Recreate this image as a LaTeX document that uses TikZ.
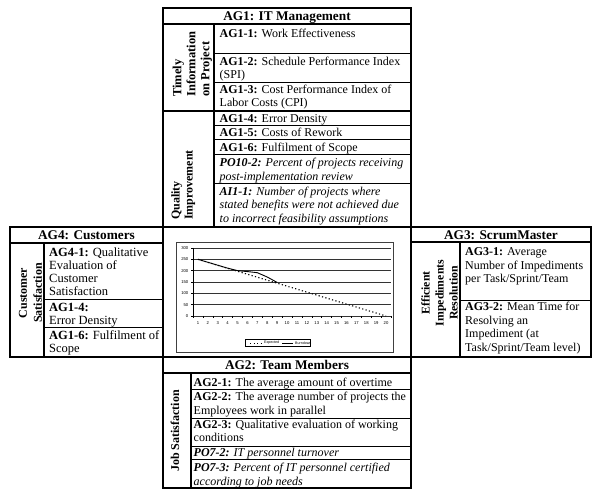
\documentclass[tikz,border=0pt]{standalone}
\usepackage{fontspec}
\setmainfont{Liberation Serif}
\newfontfamily\chartfont{Liberation Sans}
\tikzset{
  thickln/.style={line width=1.5pt, line join=miter},
  thinln/.style={line width=0.8pt},
  cell/.style={anchor=north west, inner sep=0pt, align=left, font=\fontsize{12}{13.5}\selectfont},
  celli/.style={cell, font=\fontsize{12}{13.5}\selectfont\itshape},
  cellL/.style={cell, font=\fontsize{12.5}{13}\selectfont},
  ttl/.style={anchor=base, inner sep=0pt, font=\fontsize{13.3}{15}\selectfont\bfseries},
  vlab/.style={rotate=90, inner sep=0pt, font=\bfseries},
  gridln/.style={line width=0.7pt, black!80},
  ticklab/.style={inner sep=0pt, font=\chartfont\fontsize{4.2}{5}\selectfont},
  expline/.style={line width=1.1pt, dash pattern=on 1.2pt off 2.3pt},
  burnline/.style={line width=0.9pt},
}
\begin{document}
\begin{tikzpicture}[x=1pt,y=-1pt]
\fill[white] (0,0) rectangle (600,502);
\useasboundingbox (0,0) rectangle (600,502);

% ---------- top block: AG1 ----------
\draw[thickln] (163,8) rectangle (411,227);
\draw[thickln] (163,24) -- (411,24);
\draw[thickln] (214,24) -- (214,227);
\draw[thickln] (163,111) -- (411,111);
\foreach \yy in {53,82,125,139,154,183} \draw[thinln] (214,\yy) -- (411,\yy);
\node[ttl] (ag1) at (287,20.5) {AG1: IT Management};
\node[vlab, anchor=north west, align=left, font=\fontsize{12.5}{14}\selectfont\bfseries] (timely) at (172.5,97) {Timely\\Information\\on Project};
\node[vlab, anchor=north west, align=left, font=\fontsize{12}{13}\selectfont\bfseries] (quality) at (171,220) {Quality\\Improvement};
\node[cell] (t1) at (219.5,27.5) {\strut\textbf{AG1-1:} Work Effectiveness};
\node[cell] (t2) at (219.5,55.5) {\strut\textbf{AG1-2:} Schedule Performance Index\\(SPI)};
\node[cell] (t3) at (219.5,83.5) {\strut\textbf{AG1-3:} Cost Performance Index of\\Labor Costs (CPI)};
\node[cell] (t4) at (219.5,112.5) {\strut\textbf{AG1-4:} Error Density};
\node[cell] (t5) at (219.5,127) {\strut\textbf{AG1-5:} Costs of Rework};
\node[cell] (t6) at (219.5,141.5) {\strut\textbf{AG1-6:} Fulfilment of Scope};
\node[celli] (t7) at (219.5,157.2) {\strut\textbf{PO10-2:} Percent of projects receiving\\post-implementation review};
\node[celli] (t8) at (219.5,185.5) {\strut\textbf{AI1-1:} Number of projects where\\stated benefits were not achieved due\\to incorrect feasibility assumptions};

% ---------- left block: AG4 ----------
\draw[thickln] (10,227) rectangle (163,357);
\draw[thickln] (10,243) -- (163,243);
\draw[thickln] (44,243) -- (44,357);
\draw[thinln] (44,299) -- (163,299);
\draw[thinln] (44,327) -- (163,327);
\node[ttl] (ag4) at (86.5,240) {AG4: Customers};
\node[vlab, align=center, font=\fontsize{12}{15}\selectfont\bfseries] (custsat) at (30.5,293) {Customer\\Satisfaction};
\node[cellL] (l1) at (49,246.9) {\strut\textbf{AG4-1:} Qualitative\\Evaluation of\\Customer\\Satisfaction};
\node[cellL] (l2) at (49,302.6) {\strut\textbf{AG1-4:}\\Error Density};
\node[cellL] (l3) at (49,330.2) {\strut\textbf{AG1-6:} Fulfilment of\\Scope};

% ---------- right block: AG3 ----------
\draw[thickln] (411,227) rectangle (591,357);
\draw[thickln] (411,242) -- (591,242);
\draw[thickln] (460,242) -- (460,357);
\draw[thinln] (460,300) -- (591,300);
\node[ttl] (ag3) at (501,240) {AG3: ScrumMaster};
\node[vlab, align=center, font=\fontsize{11.8}{14}\selectfont\bfseries] (effimp) at (439.5,293) {Efficient\\Impediments\\Resolution};
\node[cell] (r1) at (465,246.3) {\strut\textbf{AG3-1:} Average\\Number of Impediments\\per Task/Sprint/Team};
\node[cell] (r2) at (465,301.3) {\strut\textbf{AG3-2:} Mean Time for\\Resolving an\\Impediment (at\\Task/Sprint/Team level)};

% ---------- bottom block: AG2 ----------
\draw[thickln] (163,357) rectangle (411,488);
\draw[thickln] (163,373) -- (411,373);
\draw[thickln] (191,373) -- (191,488);
\foreach \yy in {389,418,446,459} \draw[thinln] (191,\yy) -- (411,\yy);
\node[ttl] (ag2) at (287,370) {AG2: Team Members};
\node[vlab, font=\fontsize{12}{13}\selectfont\bfseries] (jobsat) at (175,431) {Job Satisfaction};
\node[cell] (b1) at (193.5,377.3) {\strut\textbf{AG2-1:} The average amount of overtime};
\node[cell] (b2) at (193.5,391.3) {\strut\textbf{AG2-2:} The average number of projects the\\Employees work in parallel};
\node[cell] (b3) at (193.5,418.6) {\strut\textbf{AG2-3:} Qualitative evaluation of working\\conditions};
\node[celli] (b4) at (193.5,446.6) {\strut\textbf{PO7-2:} IT personnel turnover};
\node[celli] (b5) at (193.5,462.3) {\strut\textbf{PO7-3:} Percent of IT personnel certified\\according to job needs};

% ---------- centre: burndown chart ----------
\draw[line width=0.6pt, black!75] (176,242) rectangle (393,352);
\foreach \v in {0,50,...,300} {
  \draw[gridln] (193,{316-\v*0.226667}) -- (391,{316-\v*0.226667});
  \draw[line width=0.5pt] (191,{316-\v*0.226667}) -- (193,{316-\v*0.226667});
  \node[ticklab, anchor=east] (yl\v) at (188.5,{316-\v*0.226667}) {\v};
}
\draw[line width=0.7pt] (193,248) -- (193,318);
\foreach \k in {0,...,20} \draw[line width=0.5pt] ({193+\k*9.9},316) -- ({193+\k*9.9},318);
\foreach \i in {1,...,20} \node[ticklab] (xl\i) at ({193+(\i-0.5)*9.9},323) {\i};
\draw[expline] ({193+0.5*9.9},{316-250*0.226667}) -- ({193+19.5*9.9},316);
\draw[burnline] ({193+0.5*9.9},{316-250*0.226667})
  -- ({193+1.5*9.9},{316-237*0.226667})
  -- ({193+2.5*9.9},{316-224*0.226667})
  -- ({193+3.5*9.9},{316-211*0.226667})
  -- ({193+4.5*9.9},{316-200*0.226667})
  -- ({193+5.5*9.9},{316-196*0.226667})
  -- ({193+6.5*9.9},{316-191*0.226667})
  -- ({193+7.5*9.9},{316-172*0.226667})
  -- ({193+8.5*9.9},{316-148*0.226667});
% legend
\draw[line width=0.5pt] (245,339.5) rectangle (310,346.5);
\draw[expline, line width=0.9pt] (250,343) -- (262,343);
\node[ticklab, anchor=west, font=\chartfont\fontsize{3.6}{4}\selectfont] (lgexp) at (264,343) {Expected};
\draw[line width=0.7pt] (282,343) -- (293,343);
\node[ticklab, anchor=west, font=\chartfont\fontsize{3.6}{4}\selectfont] (lgburn) at (295,343) {Burndown};
\end{tikzpicture}
\end{document}
